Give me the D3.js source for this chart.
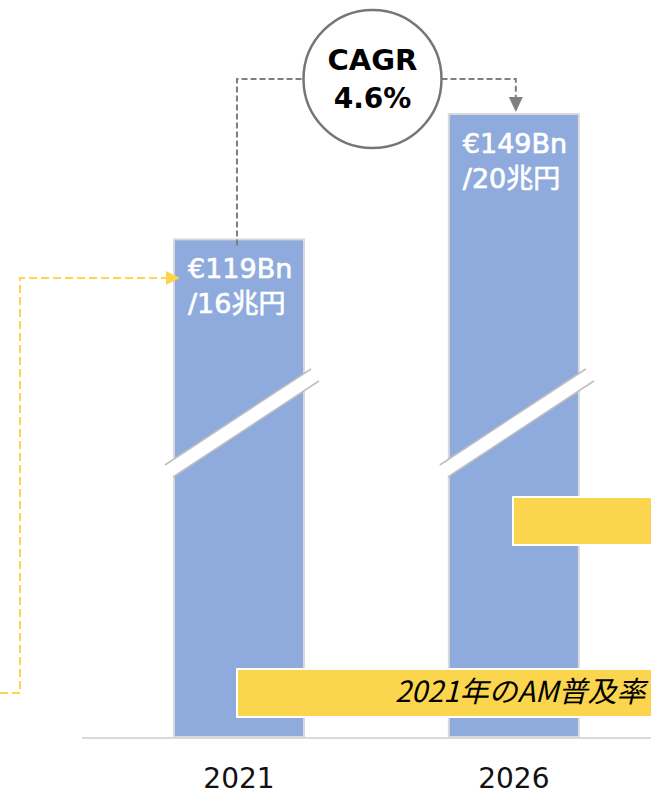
<!DOCTYPE html>
<html>
<head>
<meta charset="utf-8">
<script src="https://cdn.jsdelivr.net/npm/d3@7"></script>
<style>
  body { margin: 0; background: #fff; }
  svg { display: block; }
  text { font-family: "DejaVu Sans", "Noto Sans CJK JP", sans-serif; }
</style>
</head>
<body>
<div id="chart"></div>
<script>
// data
const years = ["2021", "2026"];
const valuesEur = [119, 149];          // €Bn
const labelsEur = ["€119Bn", "€149Bn"];
const labelsYen = ["/16兆円", "/20兆円"];
const noteText = "2021年のAM普及率";

const width = 651, height = 795;

const svg = d3.select("#chart").append("svg")
    .attr("width", width)
    .attr("height", height);

const x = d3.scaleBand()
    .domain(years)
    .range([101.4, 651.4])
    .paddingInner(0.527)
    .paddingOuter(0.264);

const y = d3.scaleLinear()
    .domain([0, d3.max(valuesEur)])
    .range([737, 114]);

const data = years.map((d, i) => ({year: d, value: valuesEur[i], eur: labelsEur[i], yen: labelsYen[i]}));

// bars
svg.append("g")
  .selectAll("rect")
  .data(data)
  .join("rect")
    .attr("x", d => x(d.year))
    .attr("y", d => y(d.value))
    .attr("width", x.bandwidth())
    .attr("height", d => y(0) - y(d.value))
    .attr("fill", "#8faadc")
    .attr("stroke", "#d9d9d9")
    .attr("stroke-width", 2);

// axis baseline
svg.append("line")
    .attr("x1", 82).attr("x2", width)
    .attr("y1", y(0) + 1).attr("y2", y(0) + 1)
    .attr("stroke", "#d9d9d9")
    .attr("stroke-width", 2);

// year labels
svg.append("g")
  .selectAll("text")
  .data(data)
  .join("text")
    .attr("x", d => x(d.year) + x.bandwidth() / 2)
    .attr("y", 788)
    .attr("text-anchor", "middle")
    .attr("font-size", 28)
    .attr("fill", "#111")
    .text(d => d.year);

// break marks (decorative, axis is cut)
const breakY = 421;
const brk = svg.append("g")
  .selectAll("g")
  .data(data)
  .join("g");
function brkPts(d) {
  const l = x(d.year), r = l + x.bandwidth();
  return [[l - 9, breakY + 44], [r + 7, breakY - 52], [r + 15, breakY - 40], [l - 1, breakY + 56]];
}
brk.append("polygon")
    .attr("points", d => brkPts(d).join(" "))
    .attr("fill", "#fff");
brk.append("line")
    .attr("x1", d => brkPts(d)[0][0]).attr("y1", d => brkPts(d)[0][1])
    .attr("x2", d => brkPts(d)[1][0]).attr("y2", d => brkPts(d)[1][1])
    .attr("stroke", "#bfbfbf").attr("stroke-width", 1.5);
brk.append("line")
    .attr("x1", d => brkPts(d)[3][0]).attr("y1", d => brkPts(d)[3][1])
    .attr("x2", d => brkPts(d)[2][0]).attr("y2", d => brkPts(d)[2][1])
    .attr("stroke", "#bfbfbf").attr("stroke-width", 1.5);

// value labels inside bars
const lab = svg.append("g")
  .selectAll("text")
  .data(data)
  .join("text")
    .attr("x", d => x(d.year) + 14)
    .attr("y", d => y(d.value) + 39)
    .attr("font-size", 27)
    .attr("fill", "#fff")
    .attr("stroke", "#fff")
    .attr("stroke-width", 0.7);
lab.append("tspan").text(d => d.eur);
lab.append("tspan")
    .attr("x", d => x(d.year) + 14)
    .attr("dy", 35)
    .text(d => d.yen);

// yellow note boxes
svg.append("rect")
    .attr("x", 513).attr("y", 497)
    .attr("width", 160).attr("height", 48)
    .attr("fill", "#fad54d")
    .attr("stroke", "#fff").attr("stroke-width", 2);
svg.append("rect")
    .attr("x", 237).attr("y", 669)
    .attr("width", 440).attr("height", 48)
    .attr("fill", "#fad54d")
    .attr("stroke", "#fff").attr("stroke-width", 2);
svg.append("text")
    .attr("x", 395).attr("y", 702)
    .style("font-family", "'Noto Sans CJK JP', sans-serif")
    .attr("font-size", 29)
    .attr("font-style", "italic")
    .attr("fill", "#000")
    .text(noteText);

// yellow dashed connector from the left
const yx = x(years[0]);
svg.append("path")
    .attr("d", `M0,693H20V278H${yx - 8}`)
    .attr("fill", "none")
    .attr("stroke", "#fad54d")
    .attr("stroke-width", 2)
    .attr("stroke-dasharray", "8,4");
svg.append("polygon")
    .attr("points", `${yx + 6},278 ${yx - 8},271 ${yx - 8},285`)
    .attr("fill", "#fad54d");

// CAGR connector
const cagr = Math.pow(valuesEur[1] / valuesEur[0], 1 / 5) - 1;
const c1 = x(years[0]) + x.bandwidth() / 2 - 2;
const c2 = x(years[1]) + x.bandwidth() / 2 + 2;
const cx = 372.5, cy = 79, cr = 69;
svg.append("path")
    .attr("d", `M${c1},${y(valuesEur[0]) + 6}V${cy}H${cx - cr}M${cx + cr},${cy}H${c2}V${y(valuesEur[1]) - 16}`)
    .attr("fill", "none")
    .attr("stroke", "#7f7f7f")
    .attr("stroke-width", 2)
    .attr("stroke-dasharray", "6,3");
svg.append("polygon")
    .attr("points", `${c2},${y(valuesEur[1]) - 2} ${c2 - 7},${y(valuesEur[1]) - 17} ${c2 + 7},${y(valuesEur[1]) - 17}`)
    .attr("fill", "#7f7f7f");
svg.append("circle")
    .attr("cx", cx).attr("cy", cy).attr("r", cr)
    .attr("fill", "#fff")
    .attr("stroke", "#767676")
    .attr("stroke-width", 2.5);
svg.append("text")
    .attr("x", cx).attr("y", 70)
    .attr("text-anchor", "middle")
    .attr("font-size", 29)
    .attr("font-weight", "bold")
    .text("CAGR");
svg.append("text")
    .attr("x", cx).attr("y", 108)
    .attr("text-anchor", "middle")
    .attr("font-size", 28)
    .attr("font-weight", "bold")
    .text(d3.format(".1%")(cagr));
</script>
</body>
</html>
